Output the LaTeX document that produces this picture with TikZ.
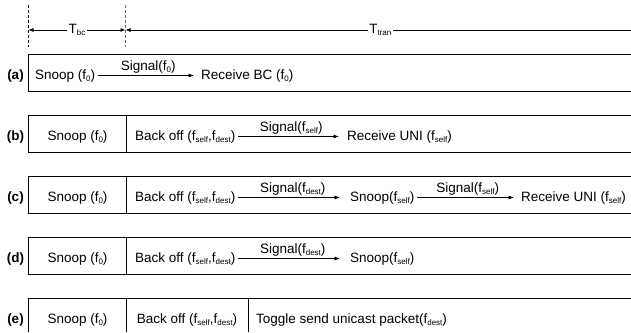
\documentclass[tikz,border=0pt]{standalone}
\usepackage{fontspec}
\setmainfont{Liberation Sans}
\usetikzlibrary{arrows.meta}
\newcommand\sbs[1]{\raisebox{-2pt}{\fontsize{8}{9}\selectfont #1}}
\tikzset{
  txt/.style={font=\fontsize{13.5}{16}\selectfont, inner sep=0pt, text height=10pt, text depth=3pt},
  lbl/.style={txt, anchor=base west},
  clbl/.style={txt, anchor=base},
  rowlbl/.style={txt, anchor=base, font=\fontsize{13.5}{16}\selectfont\bfseries},
  sig/.style={line width=0.7pt, -{Latex[length=5.5pt,width=4pt]}, shorten <=2.5pt},
  siglbl/.style={txt, above, yshift=2pt},
  boxline/.style={line width=0.9pt},
  dim/.style={line width=0.7pt},
  tlbl/.style={txt, fill=white, inner xsep=1.5pt},
  dashA/.style={line width=0.6pt, dash pattern=on 3pt off 2pt},
}
\begin{document}
\begin{tikzpicture}[x=1pt, y=-1pt]
\useasboundingbox (0,0) rectangle (631,332);

% timing dimension
\coordinate (d1t) at (28.5,5);  \coordinate (d1b) at (28.5,47);
\coordinate (d2t) at (125.5,5); \coordinate (d2b) at (125.5,47);
\draw[dashA] (d1t) -- (d1b);
\draw[dashA, black!60] (d2t) -- (d2b);
\coordinate (p1) at (28.5,30);
\coordinate (p2) at (125.5,30);
\coordinate (p3) at (632,30);
\draw[dim, {Latex[length=5pt,width=4pt]}-{Latex[length=5pt,width=4pt]}] (p1) -- node[tlbl] (tbc) {T\sbs{bc}} (p2);
\draw[dim, {Latex[length=5pt,width=4pt]}-] (p2) -- node[tlbl, pos=0.503] (ttran) {T\sbs{tran}} (p3);

% row (a)
\draw[boxline] (631,54) -- (28.5,54) -- (28.5,91) -- (631,91);
\node[rowlbl] (la) at (15.5,79) {(a)};
\node[lbl] (as) at (35,79) {Snoop (f\sbs{0})};
\node[lbl] (ar) at (201,79) {Receive BC (f\sbs{0})};
\draw[sig, shorten >=7pt] (as) -- node[siglbl] (asig) {Signal(f\sbs{0})} (ar);

% row (b)
\draw[boxline] (631,115) -- (28.5,115) -- (28.5,152) -- (631,152);
\draw[boxline] (126,115) -- (126,152);
\node[rowlbl] (lb) at (15.5,140) {(b)};
\node[clbl] (bs) at (77.5,140) {Snoop (f\sbs{0})};
\node[lbl] (bb) at (135,140) {Back off (f\sbs{self},f\sbs{dest})};
\node[lbl] (br) at (347,140) {Receive UNI (f\sbs{self})};
\draw[sig, shorten >=8pt] (bb) -- node[siglbl] (bsig) {Signal(f\sbs{self})} (br);

% row (c)
\draw[boxline] (631,176) -- (28.5,176) -- (28.5,213) -- (631,213);
\draw[boxline] (126,176) -- (126,213);
\node[rowlbl] (lc) at (15.5,201) {(c)};
\node[clbl] (cs) at (77.5,201) {Snoop (f\sbs{0})};
\node[lbl] (cb) at (135,201) {Back off (f\sbs{self},f\sbs{dest})};
\node[lbl] (cn) at (350,201) {Snoop(f\sbs{self})};
\node[lbl] (cr) at (521,201) {Receive UNI (f\sbs{self})};
\draw[sig, shorten >=10pt] (cb) -- node[siglbl] (csig1) {Signal(f\sbs{dest})} (cn);
\draw[sig, shorten >=7pt] (cn) -- node[siglbl] (csig2) {Signal(f\sbs{self})} (cr);

% row (d)
\draw[boxline] (631,237) -- (28.5,237) -- (28.5,274) -- (631,274);
\draw[boxline] (126,237) -- (126,274);
\node[rowlbl] (ld) at (15.5,262) {(d)};
\node[clbl] (ds) at (77.5,262) {Snoop (f\sbs{0})};
\node[lbl] (db) at (135,262) {Back off (f\sbs{self},f\sbs{dest})};
\node[lbl] (dn) at (350,262) {Snoop(f\sbs{self})};
\draw[sig, shorten >=10pt] (db) -- node[siglbl] (dsig) {Signal(f\sbs{dest})} (dn);

% row (e)
\draw[boxline] (631,298) -- (28.5,298) -- (28.5,332);
\draw[boxline] (126,298) -- (126,332);
\draw[boxline] (248,298) -- (248,332);
\node[rowlbl] (le) at (15.5,323) {(e)};
\node[clbl] (es) at (77.5,323) {Snoop (f\sbs{0})};
\node[clbl] (eb) at (187,323) {Back off (f\sbs{self},f\sbs{dest})};
\node[lbl] (et) at (256,323) {Toggle send unicast packet(f\sbs{dest})};
\end{tikzpicture}
\end{document}
